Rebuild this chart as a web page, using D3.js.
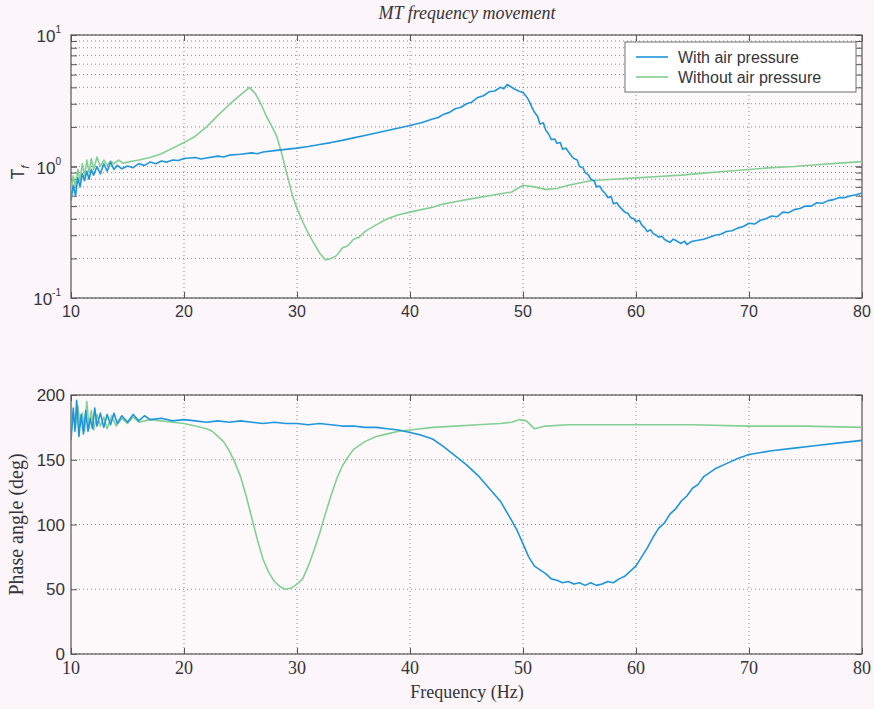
<!DOCTYPE html>
<html>
<head>
<meta charset="utf-8">
<script src="https://cdn.jsdelivr.net/npm/d3@7"></script>
<style>
  body { margin: 0; background: #fcf5f9; }
  svg { display: block; }
</style>
</head>
<body>
<div id="chart"></div>
<script>
// [frequency Hz, value]
const magWith = [[10,0.55],[10.2,0.72],[10.4,0.6],[10.6,0.82],[10.8,0.7],[11,0.88],[11.2,0.78],[11.4,0.92],[11.6,0.8],[11.8,0.95],[12,0.86],[12.3,1.0],[12.6,0.88],[12.9,1.05],[13.2,0.92],[13.5,1.08],[13.8,0.95],[14.1,1.02],[14.5,0.96],[15,1.01],[15.5,0.98],[16,1.05],[16.5,1.02],[17,1.08],[17.5,1.05],[18,1.1],[18.5,1.08],[19,1.12],[19.5,1.11],[20,1.15],[21,1.17],[21.5,1.14],[22,1.16],[23,1.2],[23.5,1.18],[24,1.22],[25,1.24],[26,1.27],[26.5,1.25],[27,1.29],[28,1.32],[29,1.35],[30,1.38],[31,1.42],[32,1.47],[33,1.52],[34,1.58],[35,1.65],[36,1.72],[37,1.8],[38,1.88],[39,1.96],[40,2.05],[41,2.15],[42,2.3],[42.5,2.36],[43,2.5],[43.5,2.58],[44,2.75],[44.5,2.82],[45,3.0],[45.5,3.1],[46,3.35],[46.5,3.45],[47,3.7],[47.5,3.75],[48,4.0],[48.3,3.9],[48.6,4.2],[49.2,3.9],[49.6,3.75],[50,3.65],[50.3,3.4],[50.5,3.2],[50.8,2.8],[51,2.6],[51.3,2.4],[51.5,2.1],[51.8,2.15],[52,1.9],[52.3,1.75],[52.5,1.6],[52.8,1.62],[53,1.5],[53.3,1.52],[53.5,1.35],[53.8,1.38],[54,1.3],[54.3,1.2],[54.5,1.15],[54.8,1.12],[55,1.0],[55.3,0.98],[55.5,0.9],[55.8,0.86],[56,0.8],[56.3,0.78],[56.5,0.7],[56.8,0.71],[57,0.66],[57.3,0.62],[57.5,0.58],[57.8,0.59],[58,0.52],[58.3,0.53],[58.5,0.5],[58.8,0.47],[59,0.45],[59.3,0.44],[59.5,0.41],[59.8,0.4],[60,0.38],[60.3,0.39],[60.5,0.36],[60.8,0.34],[61,0.32],[61.3,0.33],[61.5,0.31],[61.8,0.3],[62,0.29],[62.3,0.295],[62.5,0.28],[62.8,0.27],[63,0.265],[63.3,0.28],[63.5,0.275],[63.8,0.265],[64,0.26],[64.3,0.27],[64.5,0.255],[64.8,0.265],[65,0.27],[65.5,0.275],[66,0.28],[66.5,0.29],[67,0.3],[67.5,0.305],[68,0.32],[68.5,0.325],[69,0.34],[69.5,0.35],[70,0.37],[70.5,0.365],[71,0.39],[71.5,0.4],[72,0.42],[72.5,0.415],[73,0.45],[73.5,0.445],[74,0.47],[74.5,0.48],[75,0.5],[75.5,0.5],[76,0.53],[76.5,0.525],[77,0.55],[77.5,0.56],[78,0.58],[78.5,0.58],[79,0.6],[79.5,0.61],[80,0.63]];

const magWithout = [[10,0.65],[10.2,0.85],[10.4,0.7],[10.6,0.95],[10.8,0.78],[11,1.05],[11.2,0.85],[11.4,1.12],[11.6,0.9],[11.8,1.15],[12,0.95],[12.3,1.18],[12.6,1.0],[12.9,1.12],[13.2,1.02],[13.5,1.1],[13.8,1.05],[14.2,1.12],[14.6,1.06],[15,1.08],[16,1.12],[17,1.17],[18,1.25],[19,1.38],[20,1.52],[21,1.7],[22,2.0],[23,2.45],[24,2.95],[25,3.5],[25.8,4.0],[26.3,3.6],[26.8,3.0],[27.3,2.4],[27.8,2.0],[28.2,1.7],[28.6,1.3],[29,0.95],[29.6,0.6],[30,0.48],[30.5,0.38],[31,0.31],[31.5,0.26],[32,0.22],[32.5,0.195],[33,0.2],[33.5,0.21],[34,0.24],[34.5,0.25],[35,0.28],[35.5,0.29],[36,0.32],[37,0.36],[38,0.4],[39,0.43],[40,0.45],[41,0.47],[42,0.49],[43,0.52],[44,0.54],[45,0.56],[46,0.58],[47,0.6],[48,0.62],[49,0.64],[50,0.72],[51,0.7],[52,0.67],[53,0.68],[54,0.72],[55,0.75],[56,0.78],[58,0.8],[60,0.82],[62,0.84],[64,0.86],[66,0.89],[68,0.92],[70,0.95],[72,0.98],[74,1.0],[76,1.03],[78,1.06],[80,1.09]];

const phaseWith = [[10,165],[10.2,190],[10.35,172],[10.5,196],[10.7,168],[10.9,185],[11.1,170],[11.3,188],[11.5,172],[11.7,182],[11.9,174],[12.1,190],[12.3,176],[12.6,186],[12.9,175],[13.2,185],[13.5,177],[13.8,186],[14.1,178],[14.5,184],[15,179],[15.5,185],[16,180],[16.5,184],[17,181],[18,182],[19,180],[20,181],[21,180],[22,179],[23,180],[24,179],[25,180],[26,179],[27,178],[28,179],[29,178],[30,178],[31,177],[32,178],[33,177],[34,176],[35,176],[36,175],[37,175],[38,174],[39,173],[40,171],[41,169],[42,166],[43,160],[44,153],[45,146],[46,138],[47,128],[48,118],[49,103],[49.5,95],[50,85],[50.5,75],[51,68],[51.5,65],[52,62],[52.5,58],[53,57],[53.5,55],[54,56],[54.5,54],[55,55],[55.5,53],[56,55],[56.5,53],[57,54],[57.5,56],[58,55],[58.5,58],[59,60],[59.5,64],[60,68],[60.5,75],[61,82],[61.5,90],[62,97],[62.5,101],[63,108],[63.5,112],[64,118],[64.5,122],[65,128],[65.5,131],[66,137],[67,143],[68,147],[69,151],[70,154],[72,157],[74,159],[76,161],[78,163],[80,165]];

const phaseWithout = [[10,170],[10.2,185],[10.4,175],[10.6,192],[10.8,176],[11,186],[11.2,172],[11.4,195],[11.6,174],[11.8,188],[12,173],[12.3,185],[12.6,176],[12.9,183],[13.2,174],[13.6,184],[14,176],[14.5,182],[15,178],[15.5,183],[16,179],[17,181],[18,180],[19,179],[20,178],[21,176],[22,174],[22.5,172],[23,168],[23.5,164],[24,157],[24.5,148],[25,137],[25.5,122],[26,105],[26.5,88],[27,73],[27.5,63],[28,56],[28.5,52],[29,50],[29.5,51],[30,54],[30.5,58],[31,68],[31.5,80],[32,93],[32.5,108],[33,122],[33.5,135],[34,145],[34.5,152],[35,158],[36,164],[37,168],[38,170],[39,172],[40,173],[42,175],[44,176],[46,177],[48,178],[49,179],[49.7,181],[50.3,180],[51,174],[52,176],[54,177],[56,177],[60,177],[65,177],[70,176],[75,176],[80,175]];

const xTicks = [10, 20, 30, 40, 50, 60, 70, 80];
const magTicks = [0.1, 1, 10];
const magTickExp = ["-1", "0", "1"];
const phaseTicks = [0, 50, 100, 150, 200];
const seriesNames = ["With air pressure", "Without air pressure"];
const seriesColors = ["#1f96dc", "#84cf93"];

const width = 874, height = 709;
const left = 71, right = 862;
const topPlot = { y0: 35, y1: 298 };
const botPlot = { y0: 395, y1: 654 };
const axisColor = "#555";
const textColor = "#34343c";

const svg = d3.select("#chart").append("svg")
  .attr("width", width)
  .attr("height", height);

const x = d3.scaleLinear().domain([10, 80]).range([left, right]);
const yMag = d3.scaleLog().domain([0.1, 10]).range([topPlot.y1, topPlot.y0]);
const yPhase = d3.scaleLinear().domain([0, 200]).range([botPlot.y1, botPlot.y0]);

function drawPanel(y, p, minorTicks) {
  const g = svg.append("g");
  g.append("rect")
    .attr("x", left).attr("y", p.y0)
    .attr("width", right - left).attr("height", p.y1 - p.y0)
    .attr("fill", "#fdf9fb");

  // dotted grid
  g.selectAll(".vgrid").data(xTicks.slice(1, -1)).enter().append("line")
    .attr("x1", d => x(d)).attr("x2", d => x(d))
    .attr("y1", p.y0).attr("y2", p.y1)
    .attr("stroke", "#8a8a8a").attr("stroke-width", 1)
    .attr("stroke-dasharray", "1,3");
  g.selectAll(".hgrid").data(minorTicks).enter().append("line")
    .attr("x1", left).attr("x2", right)
    .attr("y1", d => y(d)).attr("y2", d => y(d))
    .attr("stroke", "#8a8a8a").attr("stroke-width", 1)
    .attr("stroke-dasharray", "1,3");

  // axes box with inward ticks (MATLAB style)
  g.append("rect")
    .attr("x", left).attr("y", p.y0)
    .attr("width", right - left).attr("height", p.y1 - p.y0)
    .attr("fill", "none").attr("stroke", axisColor).attr("stroke-width", 1.2);

  const xb = d3.axisTop(x).tickValues(xTicks).tickSize(6).tickFormat("");
  g.append("g").attr("transform", `translate(0,${p.y1})`).call(xb);
  const xt = d3.axisBottom(x).tickValues(xTicks).tickSize(6).tickFormat("");
  g.append("g").attr("transform", `translate(0,${p.y0})`).call(xt);
  const yl = d3.axisRight(y).tickValues(minorTicks).tickSize(6).tickFormat("");
  g.append("g").attr("transform", `translate(${left},0)`).call(yl);
  const yr = d3.axisLeft(y).tickValues(minorTicks).tickSize(6).tickFormat("");
  g.append("g").attr("transform", `translate(${right},0)`).call(yr);
  g.selectAll(".domain").remove();
  g.selectAll(".tick line").attr("stroke", axisColor);
  return g;
}

// ---- top: magnitude ----
const magMinor = [];
[0.1, 1].forEach(dec => { for (let k = 1; k <= 10; k++) magMinor.push(dec * k); });
const gTop = drawPanel(yMag, topPlot, magMinor);

const line = (y) => d3.line().x(d => x(d[0])).y(d => y(d[1]));

svg.append("clipPath").attr("id", "clipTop").append("rect")
  .attr("x", left).attr("y", topPlot.y0).attr("width", right - left).attr("height", topPlot.y1 - topPlot.y0);
svg.append("clipPath").attr("id", "clipBot").append("rect")
  .attr("x", left).attr("y", botPlot.y0 - 6).attr("width", right - left).attr("height", botPlot.y1 - botPlot.y0 + 6);

[magWithout, magWith].forEach((s, i) => {
  svg.append("path").datum(s)
    .attr("clip-path", "url(#clipTop)")
    .attr("d", line(yMag))
    .attr("fill", "none")
    .attr("stroke", seriesColors[1 - i])
    .attr("stroke-width", 1.6)
    .attr("stroke-linejoin", "round");
});

// top tick labels
gTop.selectAll(".xl").data(xTicks).enter().append("text")
  .attr("x", d => x(d)).attr("y", topPlot.y1 + 19)
  .attr("text-anchor", "middle")
  .attr("font-family", "Liberation Sans, Arial, sans-serif")
  .attr("font-size", 16).attr("fill", textColor)
  .text(d => d);

magTicks.forEach((v, i) => {
  const t = gTop.append("text")
    .attr("x", left - 10).attr("y", yMag(v) + 7)
    .attr("text-anchor", "end")
    .attr("font-family", "Liberation Sans, Arial, sans-serif")
    .attr("font-size", 17).attr("fill", textColor);
  t.append("tspan").text("10");
  t.append("tspan").attr("dy", -9).attr("font-size", 10).text(magTickExp[i]);
});

const tl = gTop.append("text")
  .attr("transform", `translate(24,${yMag(1) + 6}) rotate(-90)`)
  .attr("text-anchor", "middle")
  .attr("font-family", "Liberation Sans, Arial, sans-serif")
  .attr("font-size", 18).attr("fill", textColor);
tl.append("tspan").text("T");
tl.append("tspan").attr("dy", 5).attr("font-size", 11).attr("font-style", "italic").text("f");

svg.append("text")
  .attr("x", 467).attr("y", 19)
  .attr("text-anchor", "middle")
  .attr("font-family", "Liberation Serif, serif")
  .attr("font-style", "italic")
  .attr("font-size", 18).attr("fill", textColor)
  .text("MT frequency movement");

// legend
const lg = svg.append("g").attr("transform", "translate(625,42)");
lg.append("rect").attr("width", 231).attr("height", 50)
  .attr("fill", "#ffffff").attr("stroke", "#6e6e6e").attr("stroke-width", 1);
seriesNames.forEach((n, i) => {
  lg.append("line").attr("x1", 11).attr("x2", 43)
    .attr("y1", 15 + i * 20).attr("y2", 15 + i * 20)
    .attr("stroke", seriesColors[i]).attr("stroke-width", 1.6);
  lg.append("text").attr("x", 53).attr("y", 21 + i * 20)
    .attr("font-family", "Liberation Sans, Arial, sans-serif")
    .attr("font-size", 16).attr("fill", textColor)
    .text(n);
});

// ---- bottom: phase ----
const gBot = drawPanel(yPhase, botPlot, phaseTicks);

[phaseWithout, phaseWith].forEach((s, i) => {
  svg.append("path").datum(s)
    .attr("clip-path", "url(#clipBot)")
    .attr("d", line(yPhase))
    .attr("fill", "none")
    .attr("stroke", seriesColors[1 - i])
    .attr("stroke-width", 1.6)
    .attr("stroke-linejoin", "round");
});

gBot.selectAll(".xl").data(xTicks).enter().append("text")
  .attr("x", d => x(d)).attr("y", botPlot.y1 + 20)
  .attr("text-anchor", "middle")
  .attr("font-family", "Liberation Serif, serif")
  .attr("font-size", 18).attr("fill", textColor)
  .text(d => d);

gBot.selectAll(".yl").data(phaseTicks).enter().append("text")
  .attr("x", left - 6).attr("y", d => yPhase(d) + 6)
  .attr("text-anchor", "end")
  .attr("font-family", "Liberation Sans, Arial, sans-serif")
  .attr("font-size", 17).attr("fill", textColor)
  .text(d => d);

svg.append("text")
  .attr("transform", `translate(23,${(botPlot.y0 + botPlot.y1) / 2}) rotate(-90)`)
  .attr("text-anchor", "middle")
  .attr("font-family", "Liberation Serif, serif")
  .attr("font-size", 20).attr("fill", textColor)
  .text("Phase angle (deg)");

svg.append("text")
  .attr("x", 467).attr("y", 698)
  .attr("text-anchor", "middle")
  .attr("font-family", "Liberation Serif, serif")
  .attr("font-size", 18).attr("fill", textColor)
  .text("Frequency (Hz)");
</script>
</body>
</html>
